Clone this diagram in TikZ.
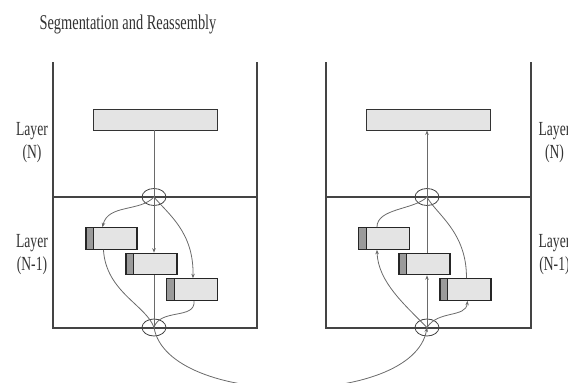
\documentclass[tikz,border=0pt]{standalone}
\usepackage{fontspec}
\setmainfont{Liberation Serif}
\usetikzlibrary{arrows.meta,shapes.geometric}
\definecolor{panel}{HTML}{444444}
\definecolor{conn}{HTML}{6A6A6A}
\definecolor{boxfill}{HTML}{E4E4E4}
\definecolor{tabfill}{HTML}{9A9A9A}
\begin{document}
\begin{tikzpicture}[x=1pt,y=-1pt,
  panelline/.style={draw=panel,line width=1.1pt},
  connline/.style={draw=conn,line width=0.8pt},
  arr/.style={connline,-{Stealth[length=4.5pt,width=3.5pt]}},
  bigbox/.style={draw=black!80,fill=boxfill,line width=0.9pt,minimum width=124pt,minimum height=21pt,inner sep=0pt},
  segbox/.style={draw=black!85,fill=boxfill,line width=1.1pt,minimum width=51pt,minimum height=21.5pt,inner sep=0pt,
    path picture={\fill[tabfill] (path picture bounding box.south west) rectangle ([xshift=7.5pt]path picture bounding box.north west);
      \draw[black!85,line width=0.9pt] ([xshift=7.5pt]path picture bounding box.south west) -- ([xshift=7.5pt]path picture bounding box.north west);}},
  ring/.style={ellipse,draw=panel,line width=0.8pt,minimum width=24pt,minimum height=17pt,inner sep=0pt},
  lbl/.style={font=\fontsize{20}{23}\selectfont,align=center,xscale=0.68,text=black!80},
]
\useasboundingbox (0,0) rectangle (568,383);
% title
\node[font=\fontsize{21}{24}\selectfont,xscale=0.686,text=black!80] (title) at (128,24) {Segmentation and Reassembly};
% labels
\node[lbl] (ln1) at (32,143) {Layer\\(N)};
\node[lbl] (ln2) at (32,255) {Layer\\(N-1)};
\node[lbl] (rn1) at (554.5,143) {Layer\\(N)};
\node[lbl] (rn2) at (554.5,255) {Layer\\(N-1)};
% panels
\draw[panelline] (53,62) -- (53,328) -- (257,328) -- (257,62);
\draw[panelline] (53,197) -- (257,197);
\draw[panelline] (326,62) -- (326,328) -- (531,328) -- (531,62);
\draw[panelline] (326,197) -- (531,197);
% top boxes
\node[bigbox] (tb1) at (155,119.5) {};
\node[bigbox] (tb2) at (428.5,119.5) {};
% rings
\node[ring] (u1) at (154,197) {};
\node[ring] (l1) at (154,327.5) {};
\node[ring] (u2) at (427,197) {};
\node[ring] (l2) at (427,327.5) {};
% segment boxes
\node[segbox] (b11) at (111.5,238.5) {};
\node[segbox] (b12) at (151.5,264) {};
\node[segbox] (b13) at (192,289.5) {};
\node[segbox] (b21) at (384,238.5) {};
\node[segbox] (b22) at (424.5,264) {};
\node[segbox] (b23) at (465.5,289.5) {};
% left connectors
\draw[connline] (u1.center |- tb1.south) -- (u1.center);
\draw[arr] (u1.center) -- (u1.center |- b12.north);
\draw[connline] (u1.center |- b12.south) -- (l1.center);
\draw[arr] (u1.center) .. controls (140,212) and (108,204) .. ([xshift=17pt]b11.north west);
\draw[arr] (u1.center) .. controls (168,214) and (194,232) .. ([xshift=27pt]b13.north west);
\draw[connline] ([xshift=18pt]b11.south west) .. controls (106,292) and (146,305) .. (l1.center);
\draw[connline] ([xshift=28pt]b13.south west) .. controls (196,320) and (160,308) .. (l1.center);
% link
\draw[arr] (l1.center) .. controls (168,408) and (413,408) .. (l2.center);
% right connectors
\draw[arr] (l2.center) -- (l2.center |- b22.south);
\draw[connline] (u2.center |- b22.north) -- (u2.center);
\draw[arr] (u2.center) -- (u2.center |- tb2.south);
\draw[arr] (l2.center) .. controls (405,305) and (378,282) .. ([xshift=19pt]b21.south west);
\draw[arr] (l2.center) .. controls (438,310) and (466,318) .. ([xshift=28pt]b23.south west);
\draw[connline] ([xshift=19pt]b21.north west) .. controls (377,208) and (414,210) .. (u2.center);
\draw[connline] ([xshift=27pt]b23.north west) .. controls (467,232) and (436,214) .. (u2.center);
\end{tikzpicture}
\end{document}
